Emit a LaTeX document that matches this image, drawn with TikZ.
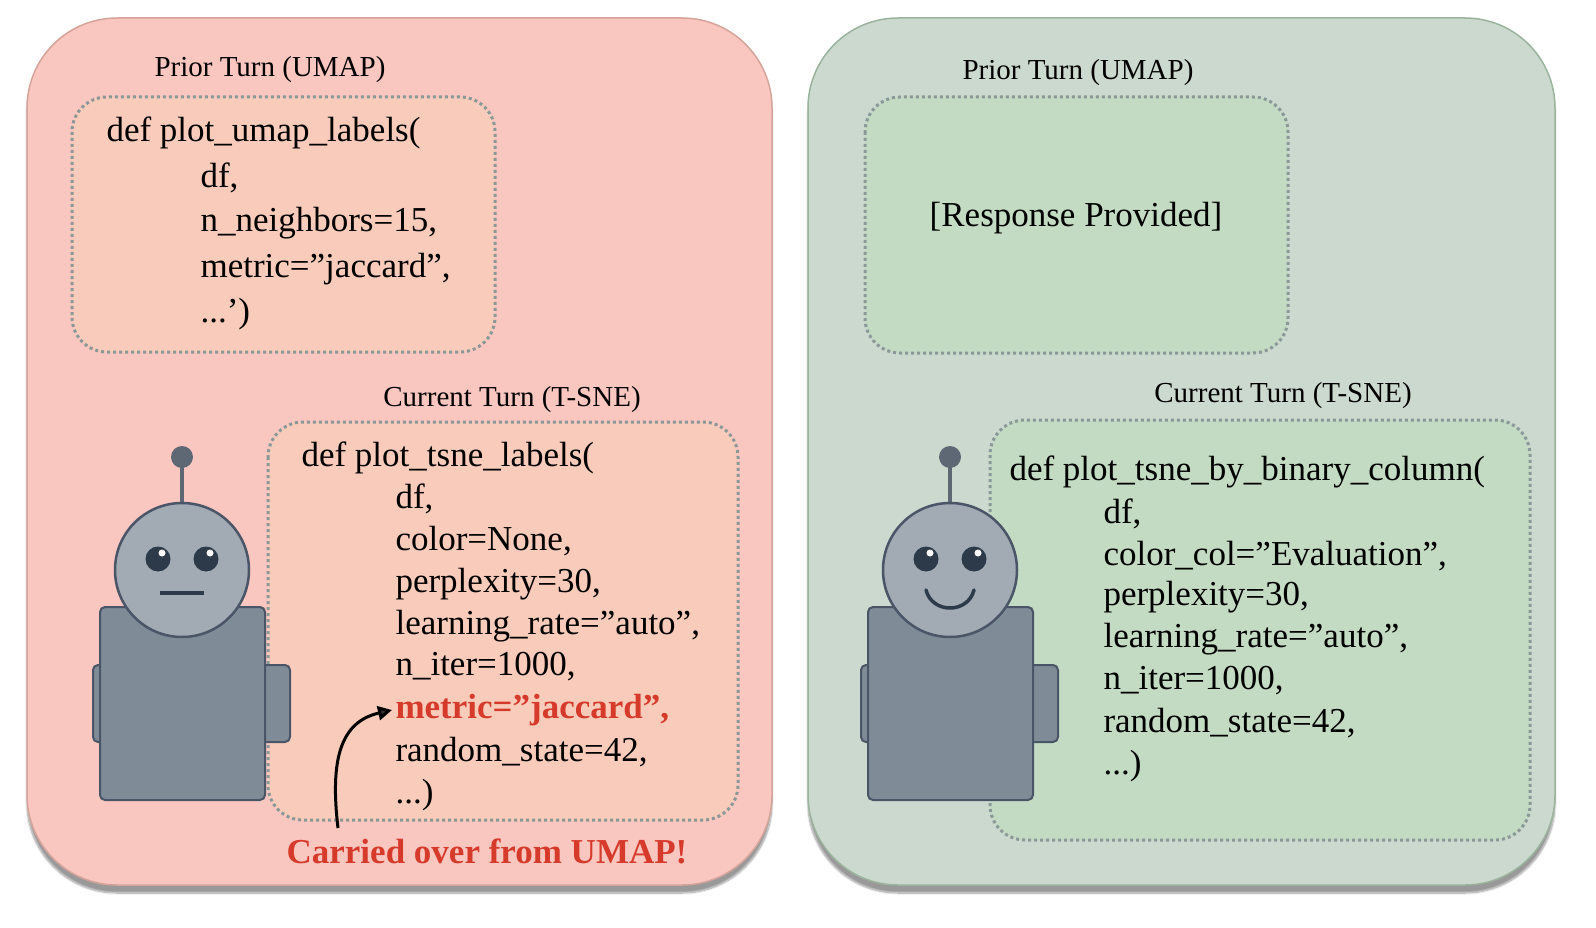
\documentclass[tikz,border=0pt]{standalone}
\usepackage{fontspec}
\setmainfont[Ligatures=ResetAll]{Liberation Serif}
\usetikzlibrary{shadows.blur,arrows.meta}
\definecolor{lpanel}{HTML}{F9C6C0}\definecolor{lborder}{HTML}{D4A49A}
\definecolor{rpanel}{HTML}{CCD9CE}\definecolor{rborder}{HTML}{9AB39C}
\definecolor{lbox}{HTML}{F9CBBB}\definecolor{rbox}{HTML}{C3DAC3}
\definecolor{dotc}{HTML}{8A9898}\definecolor{redt}{HTML}{D63A2A}
\definecolor{head}{HTML}{A2AAB3}\definecolor{body}{HTML}{7F8B97}
\definecolor{edge}{HTML}{4A5568}\definecolor{eye}{HTML}{2D3A4A}\definecolor{ant}{HTML}{5D6874}
\newcommand{\qq}{\symbol{34}}
\begin{document}
\begin{tikzpicture}[x=1pt,y=-1pt,
 panel/.style={rounded corners=90pt,line width=1.5pt,blur shadow={shadow xshift=0pt,shadow yshift=-8pt,shadow blur steps=10}},
 box/.style={rounded corners=35pt,draw=dotc,line width=3pt,dash pattern=on 3pt off 3pt},
 title/.style={font=\fontsize{29}{31}\selectfont,anchor=center},
 code/.style={font=\fontsize{35}{38}\selectfont,anchor=west},
 part/.style={fill=body,draw=edge,line width=2pt,rounded corners=5pt}]
\useasboundingbox (0,0) rectangle (1596,928);
% panels
\draw[panel,fill=lpanel,draw=lborder] (27,18) rectangle (772,885);
\draw[panel,fill=rpanel,draw=rborder] (808,18) rectangle (1555,885);
% boxes
\draw[box,fill=lbox] (72,97) rectangle (495,352);
\draw[box,fill=lbox] (268,422) rectangle (738,820);
\draw[box,fill=rbox] (865,97) rectangle (1288,353);
\draw[box,fill=rbox] (990,420) rectangle (1530,840);
% titles
\node[title] (t1) at (270,70) {Prior Turn (UMAP)};
\node[title] (t2) at (512,400) {Current Turn (T-SNE)};
\node[title] (t3) at (1078,73) {Prior Turn (UMAP)};
\node[title] (t4) at (1283,396) {Current Turn (T-SNE)};
% left prior code
\node[code] (a0) at (103,133) {def plot\_umap\_labels(};
\node[code] (a1) at (197,178) {df,};
\node[code] (a2) at (197,223) {n\_neighbors=15,};
\node[code] (a3) at (197,269) {metric=\qq jaccard\qq,};
\node[code] (a4) at (197,314) {...’)};
% left current code
\node[code] (b0) at (298,458) {def plot\_tsne\_labels(};
\node[code] (b1) at (392,499) {df,};
\node[code] (b2) at (392,541) {color=None,};
\node[code] (b3) at (392,584) {perplexity=30,};
\node[code] (b4) at (392,626) {learning\_rate=\qq auto\qq,};
\node[code] (b5) at (392,667) {n\_iter=1000,};
\node[code,text=redt,font=\fontsize{35}{38}\selectfont\bfseries] (b6) at (392,710) {metric=\qq jaccard\qq,};
\node[code] (b7) at (392,752) {random\_state=42,};
\node[code] (b8) at (392,795) {...)};
\node[font=\fontsize{35}{38}\selectfont\bfseries,text=redt] (carry) at (487,851) {Carried over from UMAP!};
\coordinate (cs) at (338,828);
\draw[line width=3pt,-{Triangle[length=14pt,width=14pt]}] (cs) .. controls (330,760) and (340,722) .. (b6.west);
% right
\node[font=\fontsize{35}{38}\selectfont] (resp) at (1076,218) {[Response Provided]};
\node[code] (c0) at (1006,472) {def plot\_tsne\_by\_binary\_column(};
\node[code] (c1) at (1100,514) {df,};
\node[code] (c2) at (1100,556) {color\_col=\qq Evaluation\qq,};
\node[code] (c3) at (1100,597) {perplexity=30,};
\node[code] (c4) at (1100,639) {learning\_rate=\qq auto\qq,};
\node[code] (c5) at (1100,681) {n\_iter=1000,};
\node[code] (c6) at (1100,723) {random\_state=42,};
\node[code] (c7) at (1100,766) {...)};
% robots
\foreach \cx/\smile in {182/0,950/1}{
 \draw[part] (\cx-89,665) rectangle (\cx-70,742);
 \draw[part] (\cx+70,665) rectangle (\cx+108,742);
 \draw[part] (\cx-82,607) rectangle (\cx+83,800);
 \draw[ant,line width=4pt] (\cx,457) -- (\cx,503);
 \fill[ant] (\cx,457) circle (11);
 \draw[fill=head,draw=edge,line width=2.5pt] (\cx,570) circle (67);
 \fill[eye] (\cx-24,559) circle (12.5) (\cx+24,559) circle (12.5);
 \fill[white] (\cx-20,553) circle (3.5) (\cx+28,553) circle (3.5);
 \ifnum\smile=0
  \draw[eye,line width=3.5pt] (\cx-22,593) -- (\cx+22,593);
 \else
  \draw[eye,line width=3.5pt,line cap=round] (\cx-24,590) .. controls (\cx-18,614) and (\cx+18,614) .. (\cx+24,590);
 \fi
}
\end{tikzpicture}
\end{document}
